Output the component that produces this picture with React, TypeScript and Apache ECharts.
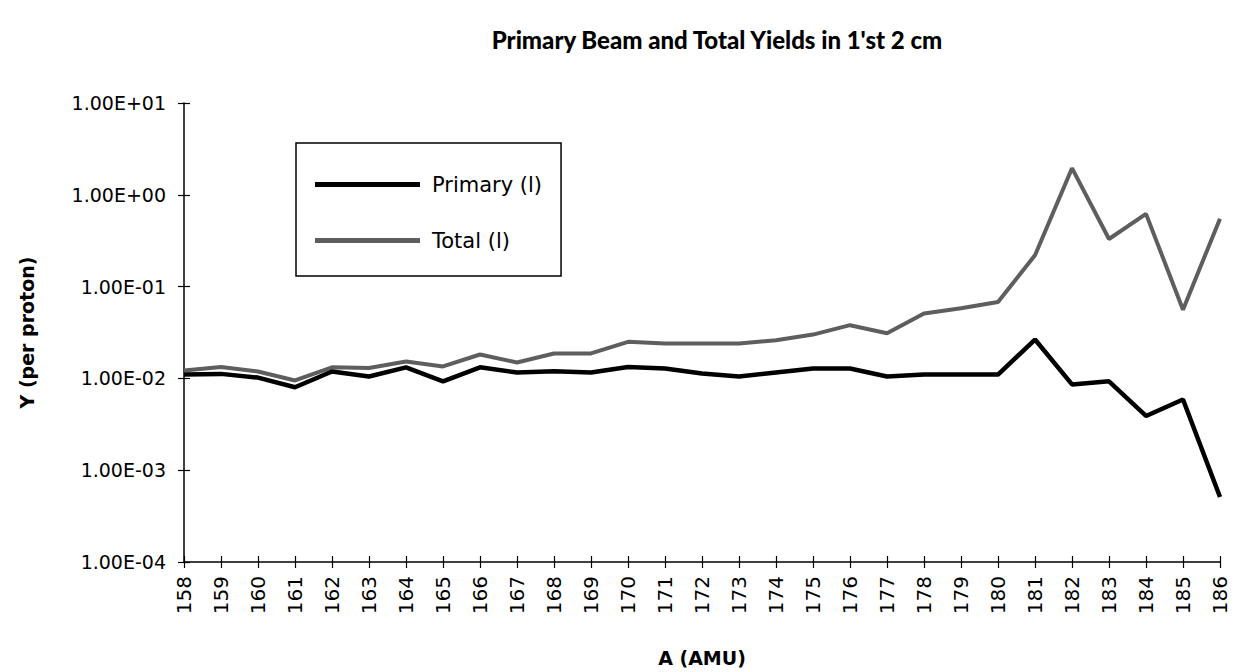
import React, { useEffect, useRef } from "react";
import * as echarts from "echarts";

const categories = [
  "158", "159", "160", "161", "162", "163", "164", "165", "166", "167",
  "168", "169", "170", "171", "172", "173", "174", "175", "176", "177",
  "178", "179", "180", "181", "182", "183", "184", "185", "186",
];

const primary = [
  0.011, 0.0112, 0.0102, 0.008, 0.0119, 0.0105, 0.0132, 0.0093, 0.0132, 0.0116,
  0.012, 0.0116, 0.0133, 0.0128, 0.0113, 0.0105, 0.0116, 0.0128, 0.0128, 0.0105,
  0.011, 0.011, 0.011, 0.0265, 0.0086, 0.0093, 0.0039, 0.0059, 0.00051,
];

const total = [
  0.0122, 0.0133, 0.0119, 0.0095, 0.0132, 0.013, 0.0153, 0.0135, 0.0182, 0.0149,
  0.0187, 0.0187, 0.025, 0.024, 0.024, 0.024, 0.026, 0.030, 0.038, 0.031,
  0.051, 0.058, 0.068, 0.22, 1.95, 0.33, 0.62, 0.056, 0.55,
];

const FONT = "DejaVu Sans";
const TITLE_FONT = "Lato";

function fmt(v: number): string {
  const e = Math.round(Math.log10(v));
  const sign = e < 0 ? "-" : "+";
  return `1.00E${sign}${String(Math.abs(e)).padStart(2, "0")}`;
}

export default function App() {
  const ref = useRef<HTMLDivElement>(null);
  useEffect(() => {
    if (!ref.current) return;
    const chart = echarts.init(ref.current, null, { renderer: "svg" });
    const tickStyle = { color: "#000", width: 1.2 };
    chart.setOption({
      animation: false,
      backgroundColor: "#ffffff",
      textStyle: { fontFamily: FONT, color: "#000" },
      title: {
        text: "Primary Beam and Total Yields in 1'st 2 cm",
        left: 712,
        top: 22,
        textAlign: "center",
        textStyle: { fontFamily: TITLE_FONT, fontSize: 24, fontWeight: 900, color: "#000" },
      },
      legend: {
        orient: "vertical",
        left: 296,
        top: 143,
        padding: [31, 19, 25, 19],
        itemGap: 35,
        itemWidth: 105,
        itemHeight: 5,
        icon: "rect",
        borderColor: "#000",
        borderWidth: 1.5,
        textStyle: { fontFamily: FONT, fontSize: 21, color: "#000", padding: [0, 0, 0, 7] },
        data: ["Primary (l)", "Total (l)"],
      },
      grid: { left: 184, right: 17, top: 103, bottom: 109, containLabel: false },
      xAxis: [
        {
          type: "category",
          data: categories,
          boundaryGap: false,
          position: "bottom",
          name: "A (AMU)",
          nameLocation: "middle",
          nameGap: 86,
          nameTextStyle: { fontFamily: FONT, fontSize: 19, fontWeight: "bold", color: "#000" },
          axisLine: { lineStyle: { color: "#000", width: 1.5 } },
          axisTick: { alignWithLabel: true, length: 6, lineStyle: tickStyle },
          axisLabel: { rotate: 90, fontSize: 20, color: "#000", fontFamily: FONT, margin: 14 },
          splitLine: { show: false },
        },
        {
          type: "category",
          data: categories,
          boundaryGap: false,
          position: "bottom",
          axisLine: { show: false },
          axisTick: { inside: true, alignWithLabel: true, length: 6, lineStyle: tickStyle },
          axisLabel: { show: false },
          splitLine: { show: false },
        },
      ],
      yAxis: [
        {
          type: "log",
          logBase: 10,
          min: 1e-4,
          max: 10,
          position: "left",
          name: "Y (per proton)",
          nameLocation: "middle",
          nameGap: 148,
          nameRotate: 90,
          nameTextStyle: { fontFamily: FONT, fontSize: 19, fontWeight: "bold", color: "#000" },
          axisLine: { show: true, lineStyle: { color: "#000", width: 1.5 } },
          axisTick: { show: true, length: 6, lineStyle: tickStyle },
          axisLabel: { fontSize: 19, color: "#000", fontFamily: FONT, margin: 18, formatter: (v: number) => fmt(v) },
          splitLine: { show: false },
        },
        {
          type: "log",
          logBase: 10,
          min: 1e-4,
          max: 10,
          position: "left",
          axisLine: { show: false },
          axisTick: { show: true, inside: true, length: 6, lineStyle: tickStyle },
          axisLabel: { show: false },
          splitLine: { show: false },
        },
      ],
      series: [
        {
          name: "Primary (l)",
          type: "line",
          data: primary,
          symbol: "none",
          lineStyle: { color: "#000", width: 4.5 },
          itemStyle: { color: "#000" },
          z: 3,
        },
        {
          name: "Total (l)",
          type: "line",
          data: total,
          symbol: "none",
          lineStyle: { color: "#5e5e5e", width: 4 },
          itemStyle: { color: "#5e5e5e" },
          z: 2,
        },
      ],
    });
    return () => chart.dispose();
  }, []);
  return (
    <div
      ref={ref}
      style={{ position: "fixed", left: 0, top: 0, width: 1237, height: 672, background: "#fff" }}
    />
  );
}
